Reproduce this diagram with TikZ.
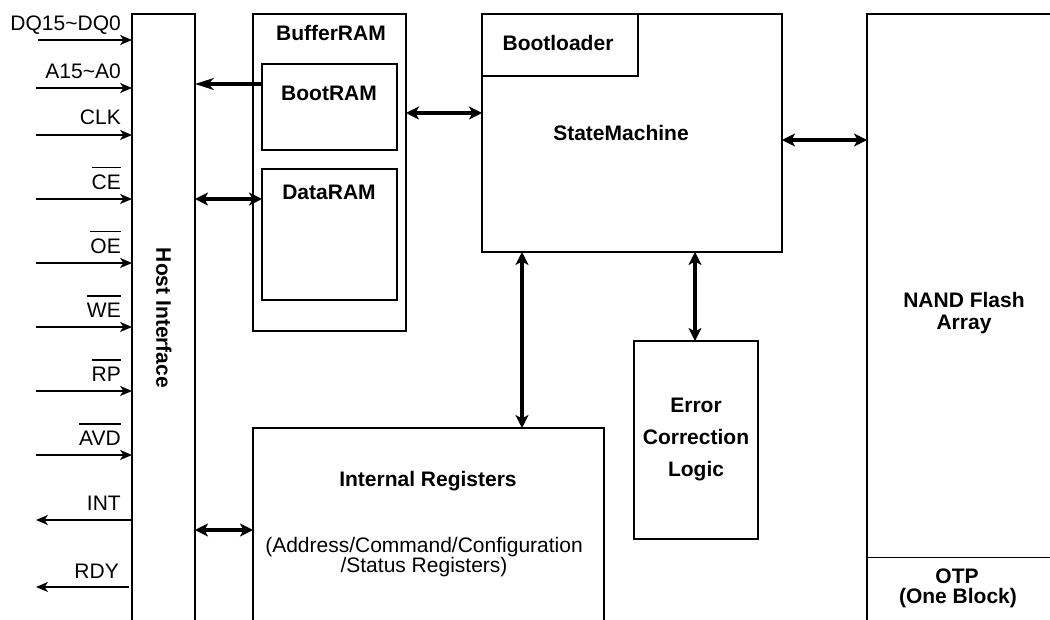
\documentclass[tikz,border=0pt]{standalone}
\usepackage{fontspec}
\setmainfont{Liberation Sans}
\usetikzlibrary{arrows.meta}
\newcommand\olbar[1]{\leavevmode\vbox{\hrule height 1.2pt\kern 6.5pt\hbox{#1}}}
\begin{document}
\begin{tikzpicture}[x=1pt,y=-1pt,
  box/.style={draw, line width=2pt, inner sep=0pt, outer sep=0pt},
  ibox/.style={draw, line width=1.2pt, inner sep=0pt, outer sep=0pt},
  area/.style={inner sep=0pt, outer sep=0pt},
  edge2/.style={line width=2pt},
  sig/.style={line width=1.1pt, -{Stealth[length=12pt,width=10pt,inset=3.5pt]}},
  busone/.style={line width=3.2pt, -{Stealth[length=19pt,width=12pt,inset=6pt]}},
  bus/.style={line width=3.2pt, {Stealth[length=13pt,width=13pt,inset=3.5pt]}-{Stealth[length=13pt,width=13pt,inset=3.5pt]}},
  txt/.style={font=\fontsize{21}{22}\selectfont, inner sep=0pt},
  btxt/.style={font=\fontsize{21}{22}\selectfont\bfseries, inner sep=0pt},
  sl/.style={txt, anchor=base east},
]
\useasboundingbox (0,0) rectangle (1050,620);
\fill[white] (0,0) rectangle (1050,620);

% ---- blocks ----
\node[area, minimum width=63pt, minimum height=606pt, anchor=north west] (host) at (132,14) {};
\draw[edge2] (host.south west) -- (host.north west) -- (host.north east) -- (host.south east);

\node[box, minimum width=153pt, minimum height=317pt, anchor=north west] (buf) at (253,14) {};
\node[ibox, minimum width=135pt, minimum height=86pt, anchor=north west] (boot) at (262,64) {};
\node[ibox, minimum width=135pt, minimum height=131pt, anchor=north west] (data) at (262,169) {};

\node[box, minimum width=300pt, minimum height=238pt, anchor=north west] (sm) at (482,14) {};
\node[box, minimum width=156pt, minimum height=62pt, anchor=north west] (bl) at (482,14) {};

\node[area, minimum width=183pt, minimum height=606pt, anchor=north west] (nand) at (867,14) {};
\draw[edge2] (nand.south west) -- (nand.north west) -- (nand.north east);
\coordinate (otpL) at (867,557);
\draw[line width=1pt] (otpL) -- (otpL -| nand.east);

\node[box, minimum width=124pt, minimum height=198pt, anchor=north west] (ecc) at (634,341) {};

\node[area, minimum width=351pt, minimum height=192pt, anchor=north west] (ireg) at (253,428) {};
\draw[edge2] (ireg.south west) -- (ireg.north west) -- (ireg.north east) -- (ireg.south east);

% ---- block texts ----
\node[btxt, rotate=-90] (hostT) at (164,318) {Host Interface};
\node[btxt, anchor=base] (bufT) at (331,41) {BufferRAM};
\node[btxt, anchor=base] (bootT) at (329,101) {BootRAM};
\node[btxt, anchor=base] (dataT) at (329,200) {DataRAM};
\node[btxt, anchor=base] (blT) at (558,51) {Bootloader};
\node[btxt, anchor=base] (smT) at (621,141) {StateMachine};
\node[btxt, anchor=base] (nandT1) at (964,308) {NAND Flash};
\node[btxt, anchor=base] (nandT2) at (964,330) {Array};
\node[btxt, anchor=base] (otpT1) at (957,583) {OTP};
\node[btxt, anchor=base] (otpT2) at (958,603) {(One Block)};
\node[btxt, anchor=base] (eccT1) at (696,412) {Error};
\node[btxt, anchor=base] (eccT2) at (696,444) {Correction};
\node[btxt, anchor=base] (eccT3) at (696,476) {Logic};
\node[btxt, anchor=base] (iregT) at (428,486) {Internal Registers};
\node[txt, anchor=base] (iregS1) at (424,552) {(Address/Command/Configuration};
\node[txt, anchor=base] (iregS2) at (424,572) {/Status Registers)};

% ---- host signals ----
\coordinate (sDQ) at (38,40);
\coordinate (sA) at (36,88);
\coordinate (sCLK) at (36,135);
\coordinate (sCE) at (36,199);
\coordinate (sOE) at (36,263);
\coordinate (sWE) at (36,327);
\coordinate (sRP) at (36,391);
\coordinate (sAVD) at (36,455);
\coordinate (sINT) at (36,520);
\coordinate (sRDY) at (36,587);
\foreach \s in {sDQ,sA,sCLK,sCE,sOE,sWE,sRP,sAVD}
  \draw[sig] (\s) -- (\s -| host.west);
\draw[sig] (sINT -| host.west) -- (sINT);
\draw[sig] ([xshift=-3pt]sRDY -| host.west) -- (sRDY);

\node[sl] (lDQ) at (121,31) {DQ15\textasciitilde DQ0};
\node[sl] (lA) at (121,79) {A15\textasciitilde A0};
\node[sl] (lCLK) at (121,125) {CLK};
\node[sl] (lCE) at (121,189.5) {\olbar{CE}};
\node[sl] (lOE) at (121,253.5) {\olbar{OE}};
\node[sl] (lWE) at (121,317.5) {\olbar{WE}};
\node[sl] (lRP) at (121,381.5) {\olbar{RP}};
\node[sl] (lAVD) at (121,445.5) {\olbar{AVD}};
\node[sl] (lINT) at (121,510.5) {INT};
\node[sl] (lRDY) at (119,578) {RDY};

% ---- internal connections ----
\coordinate (aBoot) at (262,84);
\draw[busone] (aBoot) -- (aBoot -| host.east);
\coordinate (hData) at (0,199);
\draw[bus] (hData -| host.east) -- (hData -| data.west);
\coordinate (hReg) at (0,530);
\draw[bus] (hReg -| host.east) -- (hReg -| ireg.west);
\coordinate (hBuf) at (0,113);
\draw[bus] (hBuf -| buf.east) -- (hBuf -| sm.west);
\coordinate (hNand) at (0,140);
\draw[bus] (hNand -| sm.east) -- (hNand -| nand.west);
\coordinate (vReg) at (522,0);
\draw[bus] (vReg |- sm.south) -- (vReg |- ireg.north);
\coordinate (vEcc) at (695,0);
\draw[bus] (vEcc |- sm.south) -- (vEcc |- ecc.north);
\end{tikzpicture}
\end{document}
